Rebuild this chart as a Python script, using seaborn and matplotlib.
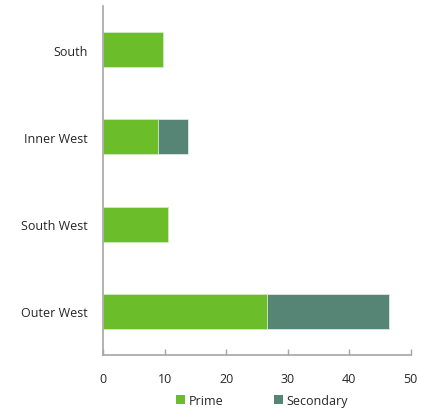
import matplotlib
matplotlib.use("Agg")
import matplotlib.pyplot as plt
from matplotlib.patches import Patch
import seaborn as sns
import pandas as pd

regions = ["South", "Inner West", "South West", "Outer West"]
prime = [9.8, 9.0, 10.6, 26.7]
secondary = [0.0, 4.8, 0.0, 19.8]

prime_color = "#6BBD2A"
secondary_color = "#568575"

sns.set_theme(style="white")
plt.rcParams["font.family"] = ["Open Sans", "DejaVu Sans"]

df = pd.DataFrame({"region": regions, "prime": prime, "secondary": secondary})
df["total"] = df["prime"] + df["secondary"]

fig = plt.figure(figsize=(4.28, 4.10), dpi=100)
ax = fig.add_axes([0.2407, 0.1317, 0.7189, 0.8513])

# stacked bars: the full total in the secondary colour, prime drawn over it
sns.barplot(data=df, x="total", y="region", orient="h", color=secondary_color,
            width=0.4, edgecolor="#dfe8e0", linewidth=0.6, ax=ax, saturation=1)
sns.barplot(data=df, x="prime", y="region", orient="h", color=prime_color,
            width=0.4, edgecolor="#d8ecc6", linewidth=0.6, ax=ax, saturation=1)

ax.set_xlim(0, 50)
ax.set_ylim(3.5, -0.5)
ax.set_xticks([0, 10, 20, 30, 40, 50])
ax.set_xlabel("")
ax.set_ylabel("")

for side in ("top", "right"):
    ax.spines[side].set_visible(False)
for side in ("left", "bottom"):
    ax.spines[side].set_color("#a6a6a6")
    ax.spines[side].set_linewidth(1.2)

ax.tick_params(axis="x", direction="in", length=4, width=1, color="#a6a6a6",
               labelsize=9, labelcolor="#262626", pad=12, bottom=True)
ax.tick_params(axis="y", length=0, labelsize=9, labelcolor="#262626", pad=11)

handles = [Patch(facecolor=prime_color, edgecolor="none", label="Prime"),
           Patch(facecolor=secondary_color, edgecolor="none", label="Secondary")]
fig.legend(handles=handles, loc="center", bbox_to_anchor=(0.612, 0.021), ncol=2,
           frameon=False, fontsize=9, handlelength=0.75, handleheight=0.75,
           handletextpad=0.3, columnspacing=4.0, labelcolor="#262626")

fig.savefig("out.png", dpi=100)
